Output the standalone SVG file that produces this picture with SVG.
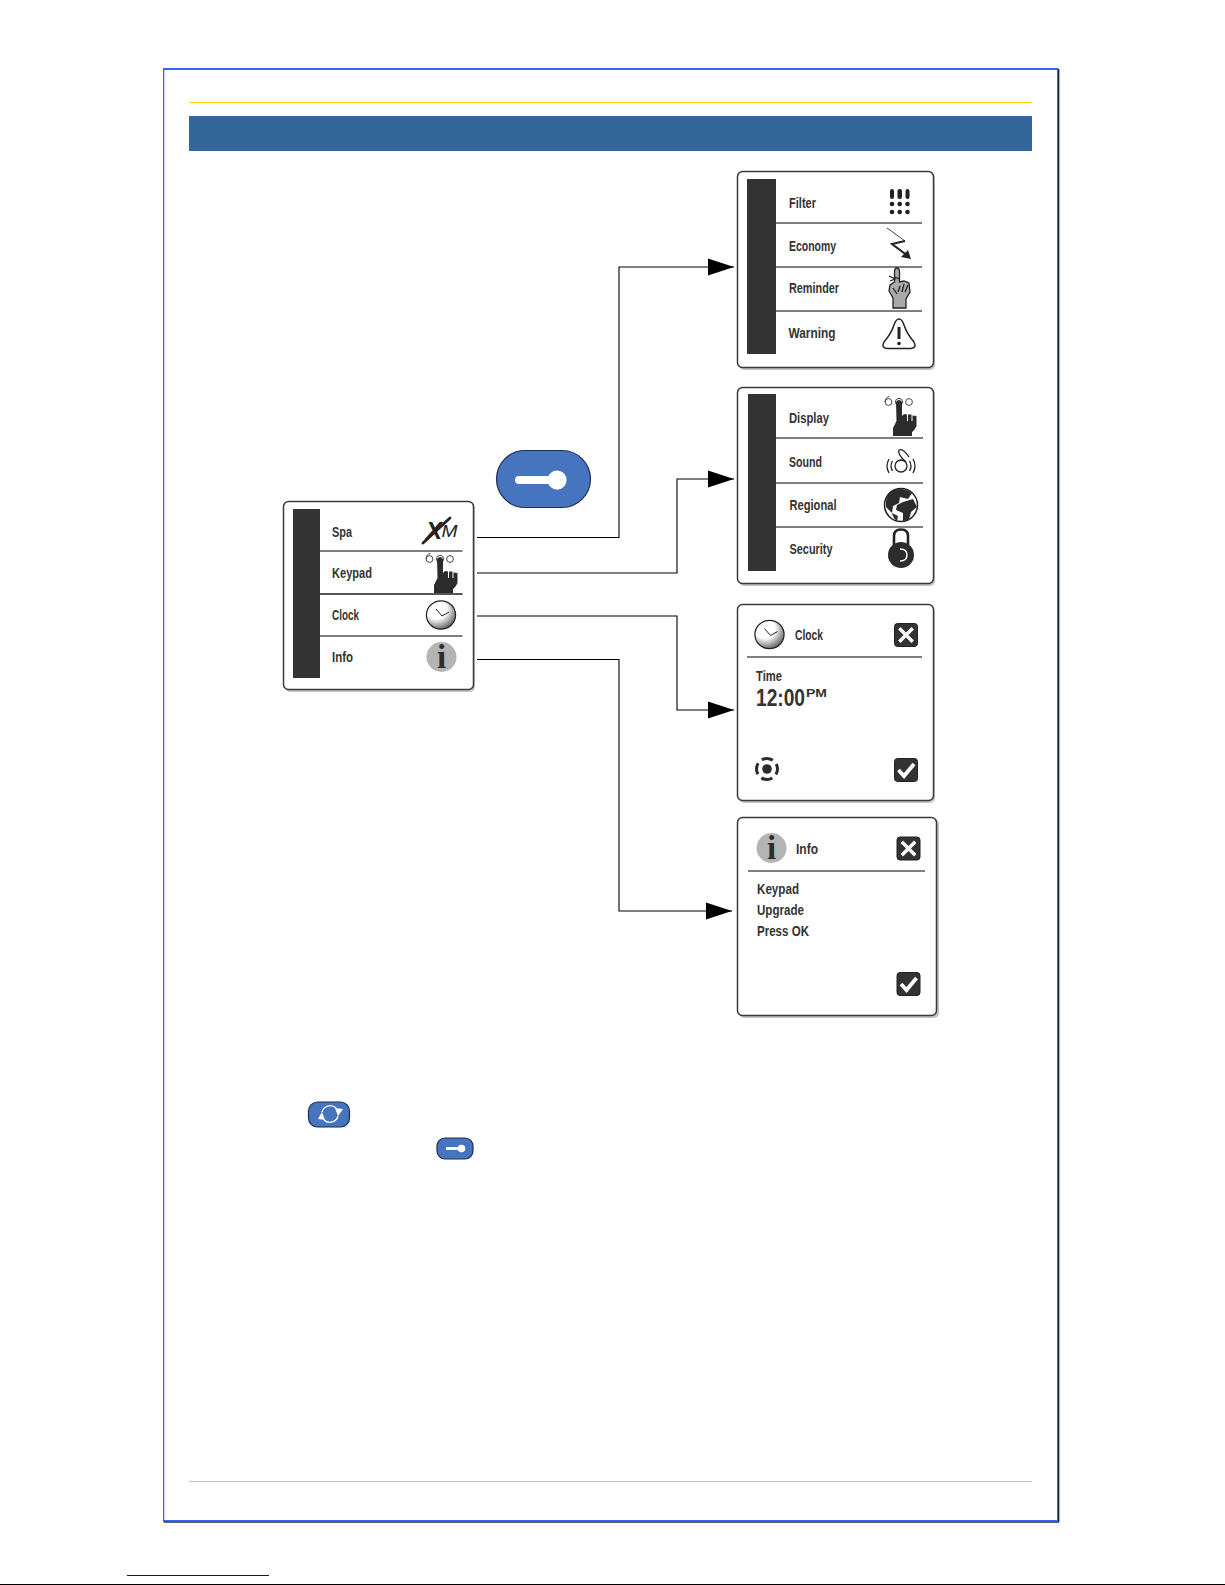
<svg xmlns="http://www.w3.org/2000/svg" xmlns:xlink="http://www.w3.org/1999/xlink" width="1225" height="1585" viewBox="0 0 1225 1585">
<style>
.panel{fill:#fff;stroke:#3a3a3a;stroke-width:1.5}
.shadow{fill:#c4c4c4}
.side{fill:#333}
.div{stroke:#555;stroke-width:1.3;fill:none}
.lbl{font-family:"Liberation Sans Narrow","Liberation Sans",sans-serif;font-weight:700;fill:#333;font-size:15px}
.conn{fill:none;stroke:#000;stroke-width:1.1}
.btn{fill:#333;stroke:#222;stroke-width:1}
.mark{fill:none;stroke:#fff;stroke-width:3.4;stroke-linecap:square}
.bluebtn{fill:#4674bf;stroke:#1f2f4f;stroke-width:1.2}
.ico{fill:none;stroke:#222;stroke-width:1.3}
.k{fill:#2c2c2c;stroke:none}
</style>
<defs>
<marker id="arrow" markerUnits="userSpaceOnUse" markerWidth="26" markerHeight="18" refX="26" refY="9" orient="auto"><path d="M0 0.5L26 9L0 17.500Z" fill="#000"/></marker>
<radialGradient id="clockfill" cx="0.35" cy="0.3" r="0.85"><stop offset="0.4" stop-color="#fff"/><stop offset="0.75" stop-color="#8a8a8a"/><stop offset="1" stop-color="#333"/></radialGradient>
<g id="hand">
<g fill="none" stroke="#333" stroke-width="0.9">
<circle cx="888.500" cy="402" r="3.400"/>
<circle cx="899" cy="402" r="3.600"/>
<circle cx="909" cy="402" r="3.400"/>
<path d="M885.100 402Q885.500 397 889.500 396.500"/>
</g>
<path class="k" d="M896 402Q899 398 902 402L902 416L904 414L907 414.500L907 421L908 421L908 414.500L911.500 414.500L911.500 421L912.500 421L912.500 415.500L916.500 416L916.500 426Q914 431 912 432L912 436L893 436L893 428L896.500 421Z"/>
</g>
<g id="infoicon">
<circle r="15" fill="#b4b4b4"/>
<text y="11" text-anchor="middle" font-family="Liberation Serif,serif" font-weight="700" font-size="33" fill="#2c2c2c">i</text>
</g>
<g id="clockicon">
<ellipse rx="14.600" ry="14.200" fill="url(#clockfill)" stroke="#222" stroke-width="1.200"/>
<path d="M-5 -6L1 1L8 -3" fill="none" stroke="#222" stroke-width="1"/>
</g>
<g id="xbtn"><rect class="btn" x="0.500" y="0.500" width="23" height="23" rx="3"/><path class="mark" d="M6.500 6.500L17.500 17.500M17.500 6.500L6.500 17.500"/></g>
<g id="checkbtn"><rect class="btn" x="0.500" y="0.500" width="23" height="23" rx="3"/><path d="M4.500 12L10 18L20 6" fill="none" stroke="#fff" stroke-width="3.800"/></g>
<g id="keymark"><path fill="#fff" d="M-38 -4H-8.600A9.500 9.500 0 1 1 -8.600 4H-38A4 4 0 0 1 -38 -4Z"/></g>
</defs>

<g id="page">
<rect x="1058" y="69" width="1.300" height="1453" fill="#000"/>
<rect x="164" y="1521.300" width="895" height="1.300" fill="#000"/>
<rect x="163" y="68" width="895" height="2" fill="#3366ff"/>
<rect x="163" y="68" width="1.300" height="1454" fill="#3366ff"/>
<rect x="1057" y="68" width="1.300" height="1454" fill="#3366ff"/>
<rect x="163" y="1520" width="895" height="1.400" fill="#3366ff"/>
<rect x="189" y="102" width="843" height="1" fill="#ffd700"/>
<rect x="189" y="1481" width="843" height="1" fill="#f5c842"/>
<rect x="189" y="116" width="843" height="35" fill="#336699"/>
<rect x="127" y="1575" width="142" height="1" fill="#0000cc"/>
<rect x="0" y="1584" width="1225" height="1" fill="#000"/>
</g>

<g id="connectors">
<path class="conn" marker-end="url(#arrow)" d="M477 537.500H619V267H734"/>
<path class="conn" marker-end="url(#arrow)" d="M477 573H677V479H734"/>
<path class="conn" marker-end="url(#arrow)" d="M477 616H677V710H734"/>
<path class="conn" marker-end="url(#arrow)" d="M477 659.500H619V911H732"/>
</g>

<g id="key-button">
<rect class="bluebtn" x="496.500" y="450.500" width="94" height="57" rx="28.500"/>
<use xlink:href="#keymark" href="#keymark" x="557" y="480"/>
</g>

<g id="menu-main">
<rect class="shadow" x="285" y="503" width="190" height="189" rx="5"/>
<rect class="panel" x="283.500" y="501.500" width="190" height="188" rx="5"/>
<rect class="side" x="293" y="509" width="27" height="169"/>
<path class="div" d="M320 551H462.500M320 636H462.500"/>
<path class="div" style="stroke-width:2" d="M320 594H462.500"/>
<text class="lbl" x="332" y="537" textLength="20" lengthAdjust="spacingAndGlyphs">Spa</text>
<text class="lbl" x="332" y="578" textLength="40" lengthAdjust="spacingAndGlyphs">Keypad</text>
<text class="lbl" x="332" y="620" textLength="27" lengthAdjust="spacingAndGlyphs">Clock</text>
<text class="lbl" x="332" y="662" textLength="21" lengthAdjust="spacingAndGlyphs">Info</text>
<path d="M423 543L450 518" stroke="#222" stroke-width="2.800" fill="none" stroke-linecap="round"/>
<text x="426" y="539" font-family="Liberation Sans,sans-serif" font-style="italic" font-weight="700" font-size="24" fill="#222">X</text>
<text x="441.500" y="537" font-family="Liberation Sans,sans-serif" font-style="italic" font-size="16" fill="#222" textLength="16" lengthAdjust="spacingAndGlyphs">M</text>
<use xlink:href="#hand" href="#hand" x="-459" y="157"/>
<use xlink:href="#clockicon" href="#clockicon" x="441" y="615"/>
<use xlink:href="#infoicon" href="#infoicon" x="441.500" y="657"/>
</g>

<g id="menu-spa">
<rect class="shadow" x="739" y="173" width="196" height="197" rx="5"/>
<rect class="panel" x="737.500" y="171.500" width="196" height="196" rx="5"/>
<rect class="side" x="747" y="179" width="29" height="175"/>
<path class="div" d="M776 223H922M776 267H922M776 311H922"/>
<text class="lbl" x="789" y="208" textLength="27" lengthAdjust="spacingAndGlyphs">Filter</text>
<text class="lbl" x="789" y="251" textLength="47" lengthAdjust="spacingAndGlyphs">Economy</text>
<text class="lbl" x="789" y="293" textLength="50" lengthAdjust="spacingAndGlyphs">Reminder</text>
<text class="lbl" x="788.500" y="338" textLength="47" lengthAdjust="spacingAndGlyphs">Warning</text>
<g fill="#222">
<rect x="890" y="189" width="4" height="10" rx="2"/><rect x="897.500" y="189" width="4.500" height="10" rx="2"/><rect x="905.500" y="189" width="4" height="10" rx="2"/>
<circle cx="892" cy="204" r="2.300"/><circle cx="899.700" cy="204" r="2.300"/><circle cx="907.500" cy="204" r="2.300"/>
<circle cx="892" cy="212" r="2.300"/><circle cx="899.700" cy="212" r="2.300"/><circle cx="907.500" cy="212" r="2.300"/>
</g>
<path d="M887 228L905 241" fill="none" stroke="#444" stroke-width="1"/>
<path d="M905 241L892 244L908 256" fill="none" stroke="#222" stroke-width="2"/>
<path d="M911 259L901 257L908 250Z" fill="#222"/>
<path d="M894.500 282V272Q894.500 268 897 268Q899.500 268 899.500 272V282L904 281L909 283L910 292L906 299V308H893V298L889 291L890 285Z" fill="#aaa" stroke="#222" stroke-width="1.300"/>
<path d="M889 276L895 279L890 281M899.500 279L894.500 277M900 286L898 292M904 284L902 292M908 285L905 292M893 288L897 294" stroke="#222" stroke-width="1.300" fill="none"/>
<path d="M899 319Q902 319 904 325Q907 334 914 342Q917 348 911 348.500H887Q881 348 884 342Q891 334 894 325Q896 319 899 319Z" fill="none" stroke="#222" stroke-width="1.500"/>
<path d="M899 327V339" stroke="#222" stroke-width="3" fill="none"/>
<circle cx="899" cy="343.500" r="1.800" fill="#222"/>
</g>

<g id="menu-keypad">
<rect class="shadow" x="739" y="389" width="196" height="197" rx="5"/>
<rect class="panel" x="737.500" y="387.500" width="196" height="196" rx="5"/>
<rect class="side" x="748" y="394" width="28" height="177"/>
<path class="div" d="M776 438H923M776 483H923M776 527H923"/>
<text class="lbl" x="789" y="423" textLength="40" lengthAdjust="spacingAndGlyphs">Display</text>
<text class="lbl" x="789" y="467" textLength="33" lengthAdjust="spacingAndGlyphs">Sound</text>
<text class="lbl" x="789.500" y="510" textLength="47" lengthAdjust="spacingAndGlyphs">Regional</text>
<text class="lbl" x="789.500" y="554" textLength="43" lengthAdjust="spacingAndGlyphs">Security</text>
<use xlink:href="#hand" href="#hand"/>
<g class="ico">
<circle cx="901" cy="466" r="6"/>
<path d="M906 462Q897 454 899 450Q903 448 909 457"/>
<path d="M889 459Q885 466 889 473M892.500 461Q889.500 466 892.500 471M913 459Q917 466 913 473M909.500 461Q912.500 466 909.500 471"/>
</g>
<circle cx="901" cy="505" r="16.500" fill="#fff" stroke="#222" stroke-width="1.500"/>
<path class="k" transform="translate(0 2)" d="M889 491Q900 483 912 491L908 497L900 495L899 501L893 504L892 511L886 505Q885 497 889 491ZM903 500L913 497L917 505L911 510L909 518L903 519L903 511L896 508L897 503ZM892 511L898 514L897 519Q893 516 892 511Z"/>
<path d="M894 545V536Q894 529.500 901 529.500Q908 529.500 908 536V545" fill="none" stroke="#222" stroke-width="2.600"/>
<circle class="k" cx="901" cy="555" r="13"/>
<path d="M900 549Q907 549 907 555Q907 561 900 561" fill="none" stroke="#fff" stroke-width="1.400"/>
</g>

<g id="clock-screen">
<rect class="shadow" x="739" y="606" width="196" height="197" rx="5"/>
<rect class="panel" x="737.500" y="604.500" width="196" height="196" rx="5"/>
<path class="div" d="M747 657H922"/>
<use xlink:href="#clockicon" href="#clockicon" x="769.500" y="634.500"/>
<text class="lbl" x="795" y="640" textLength="28" lengthAdjust="spacingAndGlyphs">Clock</text>
<use xlink:href="#xbtn" href="#xbtn" x="894" y="623"/>
<text class="lbl" x="756" y="680.500" textLength="26" lengthAdjust="spacingAndGlyphs">Time</text>
<text class="lbl" x="756" y="706" style="font-size:24px"><tspan textLength="49" lengthAdjust="spacingAndGlyphs">12:00</tspan><tspan x="806" y="697" style="font-size:11px" textLength="21" lengthAdjust="spacingAndGlyphs">PM</tspan></text>
<circle cx="767" cy="769" r="4.800" fill="#2c2c2c"/>
<circle cx="767" cy="769" r="10.500" fill="none" stroke="#2c2c2c" stroke-width="3" stroke-dasharray="11.500 5" stroke-dashoffset="5.700"/>
<use xlink:href="#checkbtn" href="#checkbtn" x="894" y="758"/>
</g>

<g id="info-screen">
<rect class="shadow" x="739" y="819" width="200" height="199" rx="5"/>
<rect class="panel" x="737.500" y="817.500" width="199" height="198" rx="5"/>
<path class="div" d="M748 871H925"/>
<use xlink:href="#infoicon" href="#infoicon" x="771.500" y="848"/>
<text class="lbl" x="796" y="854" textLength="22" lengthAdjust="spacingAndGlyphs">Info</text>
<use xlink:href="#xbtn" href="#xbtn" x="896.500" y="836.500"/>
<text class="lbl" x="757" y="894" textLength="42" lengthAdjust="spacingAndGlyphs">Keypad</text>
<text class="lbl" x="757" y="915" textLength="47" lengthAdjust="spacingAndGlyphs">Upgrade</text>
<text class="lbl" x="757" y="936" textLength="52" lengthAdjust="spacingAndGlyphs">Press OK</text>
<use xlink:href="#checkbtn" href="#checkbtn" x="896.500" y="972"/>
</g>

<g id="refresh-key">
<rect class="bluebtn" x="308.500" y="1102" width="41" height="25" rx="9"/>
<path d="M322 1112A8.500 8.500 0 0 1 336 1108M338 1116A8.500 8.500 0 0 1 324 1120" fill="none" stroke="#fff" stroke-width="1.300"/>
<path d="M318 1119L325 1120L322 1112ZM343 1109L335 1108L338 1116Z" fill="#fff"/>
</g>
<g id="small-key">
<rect class="bluebtn" x="437" y="1138" width="36" height="21" rx="8"/>
<path d="M446 1147H460V1150H446Z" fill="#fff"/>
<circle cx="461.500" cy="1148.500" r="3.800" fill="#fff"/>
</g>
</svg>
